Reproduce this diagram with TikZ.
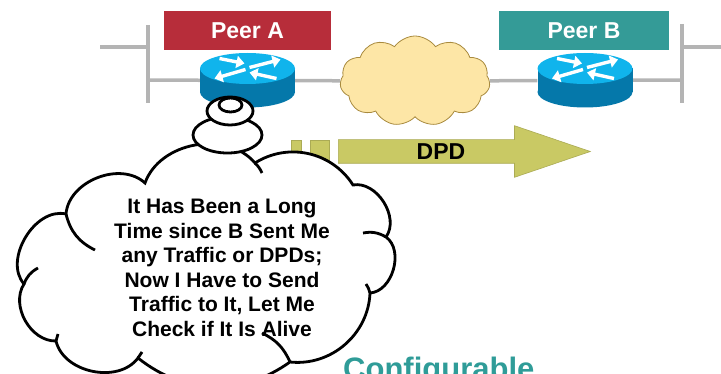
\documentclass[tikz,border=0pt]{standalone}
\usepackage{fontspec}
\setmainfont{Liberation Sans}
\usetikzlibrary{shapes.geometric,shapes.symbols,shapes.arrows,arrows.meta}
\definecolor{peerred}{HTML}{B72D3A}
\definecolor{peerteal}{HTML}{349B97}
\definecolor{wiregray}{HTML}{B4B4B4}
\definecolor{wanfill}{HTML}{FDE6A6}
\definecolor{wanedge}{HTML}{A88A3E}
\definecolor{dpdolive}{HTML}{C9C964}
\definecolor{routertop}{HTML}{10B4EC}
\definecolor{routerside}{HTML}{0578AA}
\definecolor{confteal}{HTML}{2F9C98}
\tikzset{
  peer/.style={rectangle, minimum height=39pt, inner sep=0pt, text=white,
    font=\fontsize{23}{26}\selectfont\bfseries},
  router/.style={rectangle, minimum width=95pt, minimum height=24pt, inner sep=0pt},
  wire/.style={draw=wiregray, line width=3.5pt},
  dpdpart/.style={fill=dpdolive, draw=dpdolive!85!black, line width=0.6pt,
    inner sep=0pt},
  bubble/.style={draw=black, fill=white, line width=2.8pt},
  puff/.style={bubble, ellipse, inner sep=0pt},
}
\begin{document}
\begin{tikzpicture}[x=1pt, y=1pt]
  \clip (0,0) rectangle (721,-374);
  \useasboundingbox (0,0) rectangle (721,-374);

  \coordinate (barLt) at (148,-25);
  \coordinate (barLb) at (148,-103);
  \coordinate (lanL) at (100,-47);
  \coordinate (lanLj) at (148,-47);
  \coordinate (portL) at (148,-80);
  \coordinate (barRt) at (682,-24);
  \coordinate (barRb) at (682,-103);
  \coordinate (lanR) at (721,-47);
  \coordinate (lanRj) at (682,-47);
  \coordinate (portR) at (682,-80);

  \node[router] (rA) at (247.5,-80.5) {};
  \node[router] (rB) at (585,-80.5) {};
  \node[cloud, cloud puffs=11, cloud puff arc=110, aspect=1.7,
    minimum width=150pt, minimum height=90pt, inner sep=0pt,
    fill=wanfill, draw=wanedge, line width=0.8pt] (wan) at (415,-81) {};

  \begin{scope}[wire]
    \draw (barLt) -- (barLb);
    \draw (lanL) -- (lanLj);
    \draw (portL) -- (rA);
    \draw (rA) -- (wan);
    \draw (wan) -- (rB);
    \draw (rB) -- (portR);
    \draw (barRt) -- (barRb);
    \draw (lanRj) -- (lanR);
  \end{scope}

  \foreach \r in {rA,rB}{
    \begin{scope}[shift={(\r.center)}]
      \fill[routerside] (0,-11.5) ellipse [x radius=47.5, y radius=15.5];
      \fill[routerside] (-47.5,-11.5) rectangle (47.5,12);
      \fill[routertop] (0,12) ellipse [x radius=47.5, y radius=15.5];
    \end{scope}
    \begin{scope}[shift={(\r.center)}, yshift=12pt, white, line width=3.4pt,
        -{Triangle[length=8pt,width=12pt]}]
      \draw (-28,10) -- (-3,5);
      \draw (2,1) -- (33,9);
      \draw (-2,-1) -- (-33,-10);
      \draw (29,-10) -- (2,-4);
    \end{scope}
  }

  \node[peer, fill=peerred, minimum width=167pt] (peerA) at (247.5,-30.5) {Peer A};
  \node[peer, fill=peerteal, minimum width=170pt] (peerB) at (584,-30.5) {Peer B};

  \node[dpdpart, minimum width=10pt, minimum height=23pt] (tickA) at (296,-151.5) {};
  \node[dpdpart, minimum width=19pt, minimum height=23pt] (tickB) at (319.5,-151.5) {};
  \node[dpdpart, single arrow, minimum height=252pt, inner xsep=0pt,
    inner ysep=11.5pt, single arrow head extend=14pt,
    single arrow tip angle=37.6, anchor=tail] (dpd) at (338,-151.5) {};
  \node[font=\fontsize{23}{26}\selectfont\bfseries] (dpdtext) at (441,-152) {DPD};

  \coordinate (J1) at (66,-214);
  \coordinate (J2) at (145,-183);
  \coordinate (J3) at (255,-163);
  \coordinate (J4) at (353,-185);
  \coordinate (J5) at (386,-237);
  \coordinate (J6) at (370,-293);
  \coordinate (J7) at (290,-362);
  \coordinate (J8) at (138,-358);
  \coordinate (J9) at (56,-341);
  \coordinate (J10) at (24,-284);
  \draw[bubble] (J10) to[bend left=72] (J1) to[bend left=64] (J2)
    to[bend left=60] (J3) to[bend left=45] (J4) to[bend left=68] (J5)
    to[bend left=70] (J6) to[bend left=47] (J7) to[bend left=37] (J8)
    to[bend left=65] (J9) to[bend left=62] cycle;
  \begin{scope}[bubble, fill=none]
    \draw (95,-250) to[bend left=25] (J1);
    \draw (J10) to[bend left=20] (38,-268);
    \draw (J9) to[bend left=10] (58,-334);
    \draw (J8) to[bend left=10] (142,-352);
    \draw (262,-333) to[bend left=20] (J7);
    \draw (366,-284) to[bend left=10] (J6);
    \draw (363,-233) to[bend left=20] (J5);
    \draw (J3) to[bend left=10] (262,-173);
  \end{scope}

  \node[puff, minimum width=69pt, minimum height=36pt] (puffL) at (227.5,-135) {};
  \node[puff, minimum width=46pt, minimum height=28pt] (puffM) at (230,-111) {};
  \node[puff, minimum width=23pt, minimum height=14pt] (puffS) at (230.5,-105) {};

  \node[align=center, font=\fontsize{21}{24.5}\selectfont\bfseries] (thought)
    at (222,-268) {It Has Been a Long\\Time since B Sent Me\\any Traffic or DPDs;\\
    Now I Have to Send\\Traffic to It, Let Me\\Check if It Is Alive};

  \node[anchor=base west, inner sep=0pt, text=confteal,
    font=\fontsize{31}{34}\selectfont\bfseries] (conf) at (343,-379) {Configurable};
\end{tikzpicture}
\end{document}
